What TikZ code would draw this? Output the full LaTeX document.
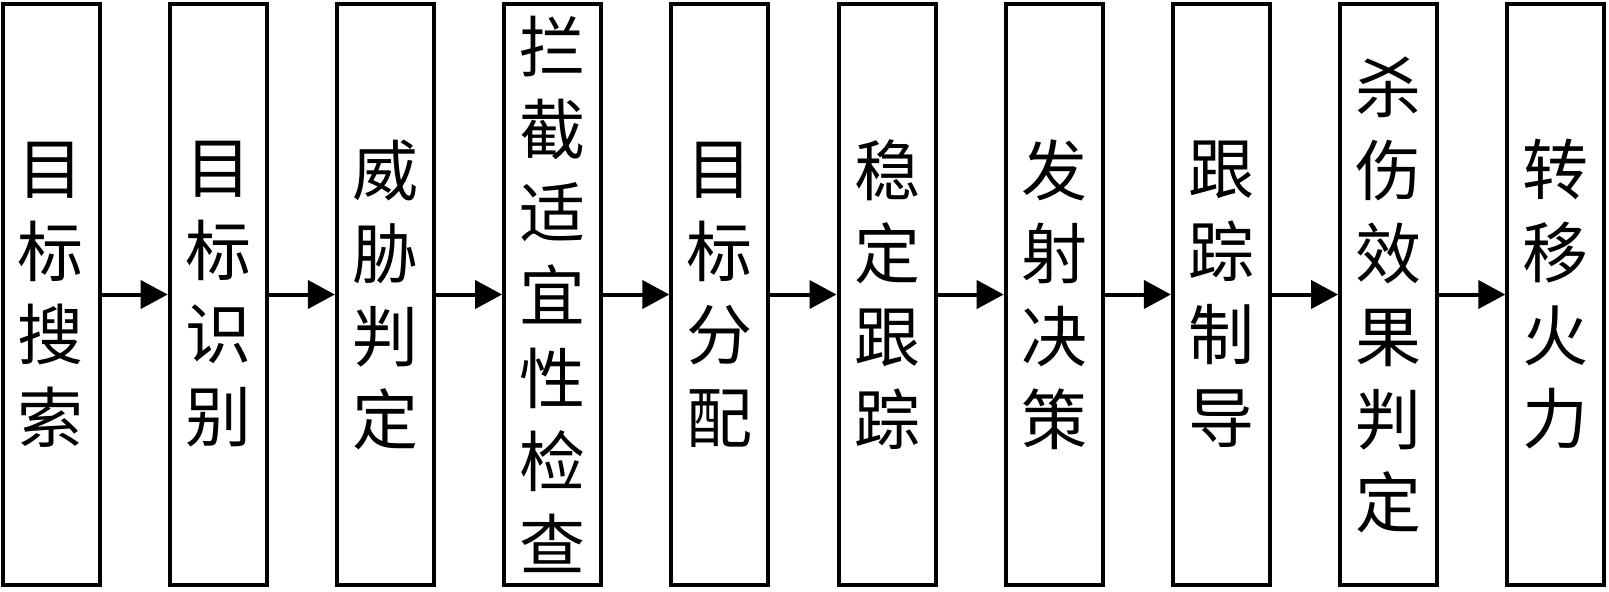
\documentclass[tikz,border=0pt]{standalone}
\usepackage{fontspec}
\newfontfamily\cjk{Noto Sans CJK SC}
\usetikzlibrary{arrows.meta}
\begin{document}
\begin{tikzpicture}[x=0.5pt,y=-0.5pt]

    \tikzset{
      stage/.style={
        draw,
        line width=2pt,
        inner sep=0pt,
        minimum width=48.5pt,
        minimum height=290.5pt,
        align=center,
        font=\cjk\fontsize{33}{41.5}\selectfont,
      },
      flow/.style={
        line width=2pt,
        -{Triangle[length=13.5pt,width=14pt]},
      },
    }
    \useasboundingbox (0,0) rectangle (1609,591);

    \node[stage] (search) at (51,294.5) {目\\标\\搜\\索};
    \node[stage] (identify) at (218.2,294.5) {目\\标\\识\\别};
    \node[stage] (threat) at (385.4,294.5) {威\\胁\\判\\定};
    \node[stage] (check) at (552.6,294.5) {拦\\截\\适\\宜\\性\\检\\查};
    \node[stage] (assign) at (719.8,294.5) {目\\标\\分\\配};
    \node[stage] (track) at (887,294.5) {稳\\定\\跟\\踪};
    \node[stage] (launch) at (1054.2,294.5) {发\\射\\决\\策};
    \node[stage] (guide) at (1221.4,294.5) {跟\\踪\\制\\导};
    \node[stage] (assess) at (1388.6,294.5) {杀\\伤\\效\\果\\判\\定};
    \node[stage] (shift) at (1555.8,294.5) {转\\移\\火\\力};

    \draw[flow] (search) -- (identify);
    \draw[flow] (identify) -- (threat);
    \draw[flow] (threat) -- (check);
    \draw[flow] (check) -- (assign);
    \draw[flow] (assign) -- (track);
    \draw[flow] (track) -- (launch);
    \draw[flow] (launch) -- (guide);
    \draw[flow] (guide) -- (assess);
    \draw[flow] (assess) -- (shift);

\end{tikzpicture}
\end{document}
